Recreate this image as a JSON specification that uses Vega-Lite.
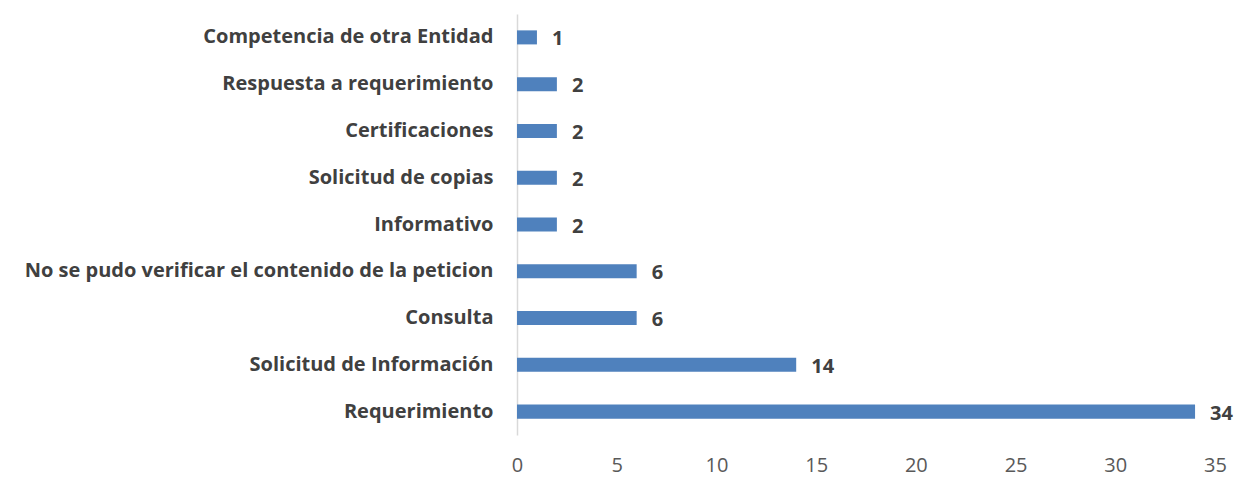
{
  "$schema": "https://vega.github.io/schema/vega-lite/v6.json",
  "autosize": "none",
  "padding": {"left": 517, "top": 14, "right": 39, "bottom": 56},
  "width": 698,
  "height": 421,
  "background": "white",
  "config": {"view": {"stroke": null}, "font": "Open Sans"},
  "data": {"values": [
    {"categoria": "Competencia de otra Entidad", "valor": 1},
    {"categoria": "Respuesta a requerimiento", "valor": 2},
    {"categoria": "Certificaciones", "valor": 2},
    {"categoria": "Solicitud de copias", "valor": 2},
    {"categoria": "Informativo", "valor": 2},
    {"categoria": "No se pudo verificar el contenido de la peticion", "valor": 6},
    {"categoria": "Consulta", "valor": 6},
    {"categoria": "Solicitud de Información", "valor": 14},
    {"categoria": "Requerimiento", "valor": 34}
  ]},
  "encoding": {
    "y": {
      "field": "categoria", "type": "nominal", "sort": null,
      "scale": {"paddingInner": 0.7, "paddingOuter": 0.35},
      "axis": {"title": null, "ticks": false, "domainColor": "#d9d9d9", "domainWidth": 1.5,
        "labelFontSize": 20, "labelFontWeight": "bold", "labelColor": "#404040", "labelPadding": 24, "labelLimit": 600, "grid": false}
    },
    "x": {
      "field": "valor", "type": "quantitative",
      "scale": {"domain": [0, 35], "nice": false},
      "axis": {"title": null, "values": [0, 5, 10, 15, 20, 25, 30, 35], "grid": false, "ticks": false, "domain": false, "labelFlush": false,
        "labelFontSize": 20, "labelColor": "#595959", "labelPadding": 20}
    }
  },
  "layer": [
    {"mark": {"type": "bar", "color": "#4F81BD"}},
    {"mark": {"type": "text", "align": "left", "dx": 15, "fontSize": 20, "fontWeight": "bold", "color": "#404040", "baseline": "middle", "dy": 2},
     "encoding": {"text": {"field": "valor", "type": "quantitative"}}}
  ]
}
